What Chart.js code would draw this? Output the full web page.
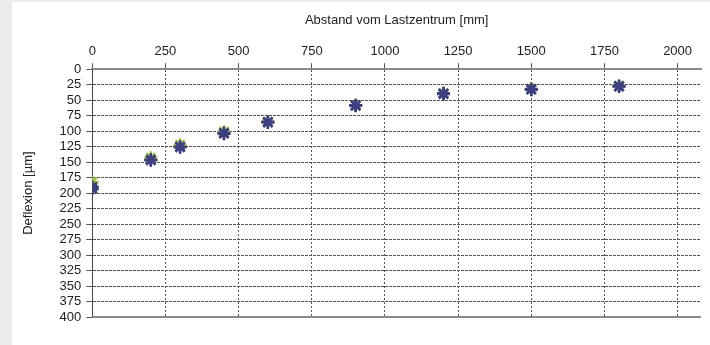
<!DOCTYPE html>
<html>
<head>
<meta charset="utf-8">
<script src="https://cdn.jsdelivr.net/npm/chart.js@4/dist/chart.umd.min.js"></script>
<style>
  html, body { margin: 0; padding: 0; background: #ececec; }
  #panel { position: absolute; left: 12px; top: 2px; width: 698px; height: 343px; background: #fff; }
  canvas { display: block; }
</style>
</head>
<body>
<div id="panel"><canvas id="chart" width="698" height="343"></canvas></div>
<script>
// distance from load centre [mm]
const distances = [0, 200, 300, 450, 600, 900, 1200, 1500, 1800];
// deflection [µm] per measurement
const seriesGreen = [182, 143, 122, 101, 85, 58, 39, 32, 27];
const seriesSlate = [190, 146, 125, 103, 85, 58, 39, 32, 27];
const seriesNavy  = [193, 147, 126, 104, 86, 59, 40, 33, 28];
const xTicks = [0, 250, 500, 750, 1000, 1250, 1500, 1750, 2000];
const yTicks = [0, 25, 50, 75, 100, 125, 150, 175, 200, 225, 250, 275, 300, 325, 350, 375, 400];

const toPoints = vals => distances.map((d, i) => ({ x: d, y: vals[i] }));

const font = { family: 'Liberation Sans, Arial, sans-serif', size: 13 };

// solid frame line along the bottom of the plot
const bottomLine = {
  id: 'bottomLine',
  afterDraw(chart) {
    const { ctx, chartArea } = chart;
    ctx.save();
    ctx.strokeStyle = '#8a8a8a';
    ctx.lineWidth = 2;
    ctx.beginPath();
    ctx.moveTo(chartArea.left, chartArea.bottom);
    ctx.lineTo(chartArea.right, chartArea.bottom);
    ctx.stroke();
    ctx.restore();
  }
};

const makeSet = (vals, color, order) => ({
  data: toPoints(vals),
  showLine: false,
  pointStyle: 'star',
  pointRadius: 6.5,
  borderWidth: 2.5,
  borderColor: color,
  backgroundColor: color,
  order: order
});

new Chart(document.getElementById('chart'), {
  type: 'scatter',
  data: {
    datasets: [
      makeSet(seriesGreen, '#a9c052', 3),
      makeSet(seriesSlate, '#364a5c', 2),
      makeSet(seriesNavy, '#3d3f80', 1)
    ]
  },
  options: {
    responsive: false,
    animation: false,
    layout: { padding: { left: 9, right: 0, top: 11, bottom: 28 } },
    plugins: { legend: { display: false }, tooltip: { enabled: false } },
    scales: {
      x: {
        type: 'linear',
        position: 'top',
        min: 0,
        max: 2080,
        afterBuildTicks: s => { s.ticks = xTicks.map(v => ({ value: v })); },
        title: { display: true, text: 'Abstand vom Lastzentrum [mm]', color: '#222', font: font, padding: { top: 0, bottom: 11 } },
        ticks: { color: '#222', font: font, padding: 4, maxRotation: 0, callback: v => String(v) },
        grid: { color: '#555', lineWidth: 1, tickLength: 6, drawOnChartArea: true },
        border: { display: true, color: '#8a8a8a', width: 2, dash: [2, 2] }
      },
      y: {
        type: 'linear',
        reverse: true,
        min: 0,
        max: 400,
        afterBuildTicks: s => { s.ticks = yTicks.map(v => ({ value: v })); },
        title: { display: true, text: 'Deflexion [µm]', color: '#222', font: font, padding: { top: 0, bottom: 18 } },
        ticks: { color: '#222', font: font, padding: 5, autoSkip: false, callback: v => String(v) },
        grid: { color: '#555', lineWidth: 1, tickLength: 6 },
        border: { display: true, color: '#444', width: 1, dash: [3, 1] }
      }
    }
  },
  plugins: [bottomLine]
});
</script>
</body>
</html>
